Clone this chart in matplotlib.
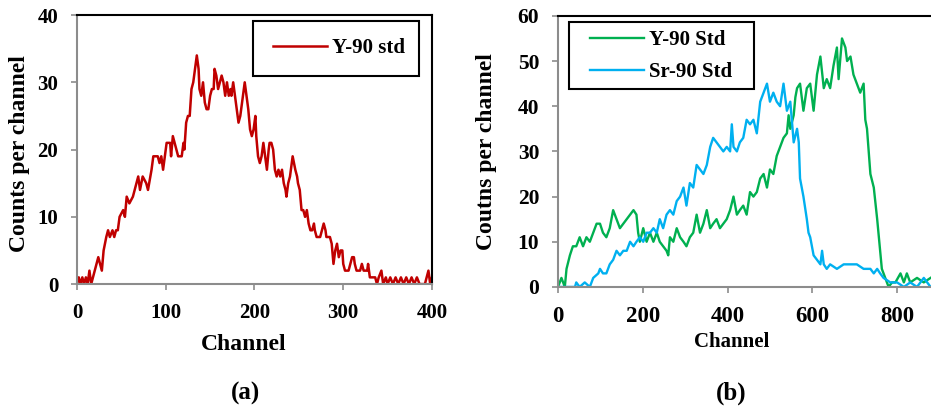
import matplotlib
matplotlib.use('Agg')
import matplotlib.pyplot as plt
from matplotlib.patches import Rectangle

plt.rcParams['font.family'] = ['Liberation Serif', 'DejaVu Serif']
plt.rcParams['font.weight'] = 'bold'

# panel (a): Y-90 std spectrum
ch_a = [0, 2, 4, 6, 8, 10, 12, 14, 16, 18, 20, 22, 24, 26, 28, 30, 33, 35, 37, 40,
        42, 44, 46, 48, 52, 54, 56, 59, 63, 65, 69, 71, 74, 78, 80, 84, 86, 91, 93, 95,
        97, 101, 105, 106, 108, 112, 114, 118, 120, 121, 123, 125, 127, 129, 131, 133, 135, 137, 138, 140,
        142, 144, 146, 148, 150, 152, 154, 155, 157, 159, 161, 163, 165, 167, 169, 171, 173, 174, 176, 178,
        180, 182, 184, 186, 189, 191, 193, 195, 197, 199, 201, 202, 204, 206, 208, 210, 212, 214, 216, 217,
        219, 221, 223, 225, 227, 229, 231, 233, 235, 236, 238, 240, 243, 246, 248, 249, 251, 253, 255, 257,
        259, 261, 263, 265, 267, 268, 270, 274, 276, 278, 280, 281, 285, 287, 289, 291, 293, 295, 297, 299,
        300, 302, 306, 308, 310, 312, 313, 315, 319, 321, 323, 327, 328, 330, 336, 338, 340, 343, 345, 348,
        350, 353, 356, 359, 362, 365, 368, 371, 374, 377, 380, 383, 386, 389, 392, 394, 396, 398, 400]
counts_a = [0, 1, 0, 1, 0, 1, 0, 2, 0, 1, 2, 3, 4, 3, 2, 5, 7, 8, 7, 8,
            7, 8, 8, 10, 11, 10, 13, 12, 13, 14, 16, 14, 16, 15, 14, 17, 19, 19, 18, 19,
            17, 21, 21, 19, 22, 20, 19, 19, 21, 20, 24, 25, 25, 29, 30, 32, 34, 32, 29, 28,
            30, 27, 26, 26, 28, 29, 29, 32, 31, 29, 30, 31, 30, 28, 30, 28, 29, 28, 30, 28,
            26, 24, 25, 27, 30, 28, 26, 23, 22, 23, 25, 22, 19, 18, 19, 21, 19, 17, 20, 21,
            21, 20, 17, 16, 17, 16, 17, 15, 14, 13, 15, 16, 19, 17, 16, 15, 14, 11, 11, 10,
            11, 9, 8, 8, 9, 8, 7, 7, 8, 9, 8, 7, 7, 6, 3, 5, 6, 4, 5, 5,
            3, 2, 2, 3, 4, 4, 3, 2, 2, 3, 2, 2, 3, 1, 1, 0, 1, 2, 0, 1,
            0, 1, 0, 1, 0, 1, 0, 1, 0, 1, 0, 1, 0, 0, 0, 1, 2, 0, 1]

# panel (b): Y-90 Std and Sr-90 Std spectra
ch_b = [0, 8, 16, 20, 28, 35, 43, 51, 59, 67, 75, 83, 91, 99, 106, 114, 122, 130, 138, 146,
        154, 162, 170, 178, 185, 189, 193, 201, 209, 217, 225, 233, 240, 248, 256, 260, 264, 272, 280, 288,
        296, 303, 311, 319, 327, 335, 343, 351, 359, 366, 374, 382, 390, 398, 406, 414, 422, 429, 437, 445,
        453, 461, 469, 477, 485, 493, 500, 508, 516, 524, 532, 540, 544, 548, 556, 560, 564, 571, 579, 587,
        595, 603, 611, 619, 627, 634, 642, 650, 658, 662, 670, 678, 682, 690, 697, 705, 713, 721, 725, 729,
        737, 745, 753, 760, 764, 772, 780, 788, 796, 808, 816, 823, 831, 847, 863, 879]
y90 = [0, 2, 0, 4, 7, 9, 9, 11, 9, 11, 10, 12, 14, 14, 12, 11, 13, 17, 15, 13,
       14, 15, 16, 17, 16, 12, 10, 13, 10, 12, 10, 12, 10, 9, 8, 7, 11, 10, 13, 11,
       10, 9, 11, 12, 16, 12, 14, 17, 13, 14, 15, 13, 14, 15, 17, 20, 16, 17, 18, 16,
       21, 20, 21, 24, 25, 22, 26, 25, 29, 31, 33, 34, 38, 35, 38, 42, 44, 45, 39, 44,
       45, 39, 47, 51, 44, 46, 44, 49, 53, 46, 55, 53, 50, 51, 47, 45, 43, 45, 37, 35,
       25, 22, 15, 8, 4, 2, 0, 1, 1, 3, 1, 3, 1, 2, 1, 2]
ch_sr = [0, 20, 40, 43, 51, 63, 75, 83, 95, 99, 106, 114, 122, 130, 138, 146, 154, 162, 170, 178,
         185, 193, 201, 209, 217, 225, 233, 240, 248, 256, 264, 272, 280, 288, 296, 303, 311, 319, 327, 335,
         343, 351, 359, 366, 374, 382, 390, 398, 406, 410, 414, 422, 429, 437, 445, 453, 461, 469, 477, 485,
         493, 500, 508, 516, 524, 532, 540, 548, 556, 564, 568, 571, 579, 587, 591, 595, 603, 611, 619, 623,
         627, 634, 642, 658, 674, 690, 705, 721, 737, 745, 753, 760, 768, 784, 800, 816, 831, 847, 863, 879]
sr90 = [0, 0, 0, 1, 0, 1, 0, 2, 3, 4, 3, 3, 5, 6, 8, 7, 8, 8, 10, 9,
        10, 11, 10, 12, 12, 13, 12, 15, 13, 16, 17, 16, 19, 20, 22, 18, 23, 22, 27, 26,
        25, 27, 31, 33, 32, 31, 30, 31, 30, 36, 31, 30, 32, 33, 37, 36, 37, 34, 41, 43,
        45, 41, 43, 41, 40, 45, 39, 41, 32, 35, 32, 24, 20, 15, 12, 11, 7, 6, 5, 8,
        5, 4, 5, 4, 5, 5, 5, 4, 4, 3, 4, 3, 2, 1, 1, 0, 1, 0, 2, 0]

gray = '#8c8c8c'
fig = plt.figure(figsize=(9.31, 4.07), dpi=100)


def style_axes(ax, xsize=15, ysize=15):
    for side in ['left', 'bottom']:
        ax.spines[side].set_color(gray)
        ax.spines[side].set_linewidth(1.5)
    for side in ['top', 'right']:
        ax.spines[side].set_color('black')
        ax.spines[side].set_linewidth(1.5)
    ax.tick_params(direction='out', length=4.5, width=1.2, color=gray, pad=9)
    ax.tick_params(axis='x', labelsize=xsize)
    ax.tick_params(axis='y', labelsize=ysize)
    for lab in ax.get_xticklabels() + ax.get_yticklabels():
        lab.set_fontweight('bold')


def boxed_legend(ax, anchor, frame, spacing):
    leg = ax.legend(loc='upper left', bbox_to_anchor=anchor, fontsize=15,
                    frameon=False, handlelength=2.6, borderpad=0,
                    handletextpad=0.25, labelspacing=spacing, borderaxespad=0)
    leg.set_zorder(5)
    for t in leg.get_texts():
        t.set_fontweight('bold')
    x0, y0, x1, y1 = frame
    ax.add_patch(Rectangle((x0, y0), x1 - x0, y1 - y0, transform=ax.transAxes,
                           facecolor='white', edgecolor='black', linewidth=1.5,
                           zorder=4, clip_on=False))


# (a)
ax1 = fig.add_axes([0.0827, 0.302, 0.3813, 0.661])
ax1.plot(ch_a, counts_a, color='#c00000', linewidth=1.8, label='Y-90 std')
ax1.set_xlim(0, 400)
ax1.set_ylim(0, 40)
ax1.set_xticks([0, 100, 200, 300, 400])
ax1.set_yticks([0, 10, 20, 30, 40])
style_axes(ax1)
ax1.set_xlabel('Channel', fontsize=17, fontweight='bold')
ax1.set_ylabel('Counts per channel', fontsize=17, fontweight='bold')
ax1.xaxis.set_label_coords(0.47, -0.185)
ax1.yaxis.set_label_coords(-0.132, 0.487)
boxed_legend(ax1, (0.552, 0.913), (0.496, 0.773, 0.963, 0.978), 0.5)

# (b)
ax2 = fig.add_axes([0.5994, 0.295, 0.4006, 0.666])
ax2.plot(ch_b, y90, color='#00b050', linewidth=1.7, label='Y-90 Std')
ax2.plot(ch_sr, sr90, color='#00b0f0', linewidth=1.7, label='Sr-90 Std')
ax2.set_xlim(0, 880)
ax2.set_ylim(0, 60)
ax2.set_xticks([0, 200, 400, 600, 800])
ax2.set_yticks([0, 10, 20, 30, 40, 50, 60])
style_axes(ax2, xsize=16.5, ysize=15.5)
ax2.spines['right'].set_visible(False)
ax2.set_xlabel('Channel', fontsize=15, fontweight='bold')
ax2.set_ylabel('Coutns per channel', fontsize=17, fontweight='bold')
ax2.xaxis.set_label_coords(0.466, -0.168)
ax2.yaxis.set_label_coords(-0.164, 0.5)
boxed_legend(ax2, (0.0858, 0.948), (0.0295, 0.731, 0.525, 0.978), 0.58)

fig.text(245 / 931, 1 - 393 / 407, '(a)', fontsize=18, fontweight='bold',
         ha='center', va='center')
fig.text(731 / 931, 1 - 393 / 407, '(b)', fontsize=18, fontweight='bold',
         ha='center', va='center')

fig.savefig('out.png', dpi=100)
